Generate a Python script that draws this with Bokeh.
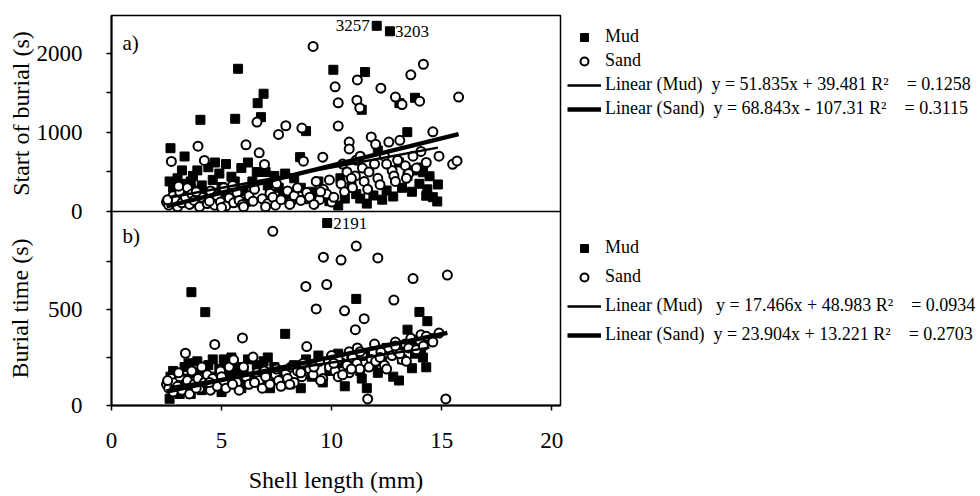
import numpy as np
from bokeh.plotting import figure
from bokeh.layouts import column
from bokeh.models import Range1d, FixedTicker, Legend, LegendItem, Label, ColumnDataSource
from bokeh.core.properties import value
from bokeh.embed import file_html
from bokeh.resources import INLINE

FONT = "Liberation Serif"
NaN = float("nan")

# ---------------- data ----------------
# Mud: shell length (mm), start of burial (s), burial time (s)
mud_len = [2.64, 2.68, 2.80, 2.90, 3.00, 3.10, 3.32, 3.40, 3.50, 3.63,
           3.70, 3.80, 3.90, 4.04, 4.10, 4.26, 4.40, 4.50, 4.60, 4.80,
           4.90, 5.00, 5.20, 5.30, 5.45, 5.62, 5.75, 5.90, 6.00, 6.20,
           6.40, 6.64, 6.79, 6.91, 7.00, 7.20, 7.40, 7.60, 7.89, 8.10,
           8.30, 8.57, 8.84, 9.10, 9.40, 9.60, 10.08, 10.30, 10.60, 10.90,
           11.12, 11.30, 11.37, 11.52, 11.60, 11.90, 12.10, 12.50, 13.06, 13.08,
           13.20, 13.44, 13.45, 13.65, 13.70, 13.79, 13.99, 14.06, 14.15, 14.30,
           14.35, 14.45, 14.60, 14.80, 14.83, 3.20, 3.60, 4.20, 4.70, 5.10,
           5.60, 6.10, 6.60, 7.10, 7.80, 8.60, 9.90, 10.40, 12.30, 12.80]
mud_start = [380, 801, 300, 150, 420, 250, 696, 350, 180, 280,
             450, 120, 520, 1160, 330, 240, 560, 200, 400, 90,
             480, 310, 600, 160, 440, 1173, 1806, 550, 260, 620,
             380, 1371, 1194, 1490, 500, 220, 450, 300, 480, 150,
             420, 688, 1017, 250, 380, 180, 1793, 76, 164, 320,
             220, 164, 1287, 1764, 100, 203, 772, 266, 620, 1371,
             300, 1004, 450, 250, 519, 1439, 350, 557, 497, 200,
             280, 446, 181, 127, 342, 520, 380, 150, 620, 250,
             380, 120, 500, 330, 200, 300, 130, 420, 150, 190]
mud_burial = [35, 150, 180, 90, 120, 60, 200, 140, 220, 590,
              100, 170, 230, 130, 80, 486, 210, 150, 240, 110,
              190, 70, 220, 160, 250, 130, 200, 90, 180, 240,
              150, 200, 120, 230, 170, 90, 200, 140, 373, 110,
              210, 180, 240, 150, 260, 120, 200, 270, 100, 230,
              555, 180, 140, 260, 90, 210, 170, 300, 130, 280,
              240, 320, 395, 194, 340, 270, 487, 300, 250, 199,
              439, 350, NaN, NaN, NaN, 100, 60, 190, 130, 240,
              170, 110, 210, 250, 120, 90, 180, 220, 230, 150]

# Sand: shell length (mm), start of burial (s), burial time (s)
sand_len = [2.50, 2.60, 2.72, 2.80, 2.90, 3.00, 3.10, 3.20, 3.36, 3.45,
            3.55, 3.65, 3.75, 3.93, 4.00, 4.10, 4.22, 4.35, 4.50, 4.60,
            4.69, 4.80, 4.95, 5.10, 5.20, 5.35, 5.55, 5.70, 5.80, 5.95,
            6.11, 6.25, 6.43, 6.61, 6.71, 6.85, 6.95, 7.10, 7.20, 7.33,
            7.45, 7.59, 7.70, 7.92, 8.00, 8.15, 8.30, 8.45, 8.65, 8.72,
            8.83, 8.87, 9.00, 9.16, 9.30, 9.45, 9.60, 9.63, 9.78, 9.90,
            10.00, 10.16, 10.30, 10.30, 10.43, 10.59, 10.70, 10.80, 10.80, 10.95,
            11.08, 11.12, 11.15, 11.17, 11.28, 11.40, 11.48, 11.64, 11.80, 11.95,
            12.10, 12.24, 12.40, 12.60, 12.75, 12.83, 12.90, 13.00, 13.20, 13.35,
            13.50, 13.60, 13.70, 13.85, 14.00, 14.06, 14.17, 14.30, 14.60, 14.88,
            15.19, 15.26, 15.50, 15.70, 15.77, 2.55, 3.05, 3.85, 4.45, 5.00,
            5.50, 6.00, 6.50, 7.00, 7.50, 8.10, 8.60, 9.20, 9.50, 10.10,
            10.50, 10.90, 11.30, 11.70, 12.00, 12.20, 12.50, 12.90, 13.10, 13.40]
sand_start = [120, 80, 633, 200, 150, 60, 250, 110, 180, 300,
              90, 220, 140, 827, 60, 180, 646, 100, 260, 150,
              80, 200, 120, 300, 70, 170, 110, 240, 140, 90,
              844, 200, 130, 1131, 743, 160, 595, 100, 230, 180,
              80, 975, 150, 1085, 260, 120, 200, 300, 1055, 637,
              160, 240, 180, 2089, 380, 150, 688, 280, 220, 400,
              120, 1578, 1375, 1081, 350, 250, 500, 878, 791, 300,
              450, 650, 1409, 1665, 1310, 550, 380, 280, 943, 600,
              420, 1561, 700, 878, 520, 450, 1448, 650, 1354, 580,
              480, 1729, 700, 550, 1396, 760, 1863, 620, 1008, 700,
              NaN, NaN, 597, 640, 1448, 150, 320, 250, 130, 50,
              330, 60, 280, 60, 350, 90, 140, 90, 250, 180,
              600, 420, 700, 500, 850, 340, 600, 380, 900, 420]
sand_burial = [110, 90, 140, 70, 120, 100, 150, 80, 272, 130,
               60, 180, 110, 140, 90, 200, 120, 160, 80, 140,
               318, 100, 180, 130, 90, 200, 238, 120, 80, 352,
               150, 110, 252, 170, 130, 90, 180, 140, 110, 907,
               160, 130, 100, 170, 140, 200, 120, 180, 150, 220,
               620, 307, 190, 160, 503, 230, 140, 772, 630, 200,
               260, 180, 240, 150, 757, 493, 210, 280, 170, 250,
               395, 830, 220, 300, 190, 260, 452, 34, 240, 320,
               768, 280, 210, 300, 260, 549, 330, 280, 240, 320,
               300, 350, 661, 290, 340, 368, 310, 360, 330, 377,
               34, 679, NaN, NaN, NaN, 130, 170, 90, 120, 150,
               110, 200, 120, 150, 190, 110, 170, 200, 130, 220,
               160, 190, 280, 200, 230, 250, 190, 310, 270, 230]

# Off-scale mud values, drawn just under the top of panel a) / b) and labelled
top_out_len = [12.05, 12.65]
top_out_drawn_at = [2350, 2280]
top_out_value = ["3257", "3203"]
bot_out_len = [9.80]
bot_out_drawn_at = [950]
bot_out_value = ["2191"]

# Linear fits: slope, intercept, R^2
fit_start_mud = [51.835, 39.481, 0.1258]
fit_start_sand = [68.843, -107.31, 0.3115]
fit_burial_mud = [17.466, 48.983, 0.0934]
fit_burial_sand = [23.904, 13.221, 0.2703]

x_ticks = [0, 5, 10, 15, 20]
top_ticks = [0, 1000, 2000]
bot_ticks = [0, 500]

NB = "\u00a0"
OVERLAP = 14  # px strip where panel b overlaps panel a, so the top "0" label is not cut


def fit_line(xs, ys, fit):
    xs = np.asarray(xs, float)
    ok = ~np.isnan(np.asarray(ys, float))
    xx = np.array([xs[ok].min(), xs[ok].max()])
    return xx, fit[0] * xx + fit[1]


def eq_text(fit):
    sign = "+" if fit[1] >= 0 else "-"
    return f"y = {fit[0]:.3f}x {sign} {abs(fit[1]):g} R\u00b2{NB}{NB}{NB}{NB}= {fit[2]:.4f}"


def style(p, yticks, minor, title, title_standoff):
    p.xgrid.visible = False
    p.ygrid.visible = False
    p.outline_line_color = "black"
    p.outline_line_width = 1.5
    p.outline_line_alpha = 1
    p.background_fill_color = "white"
    ax = p.yaxis[0]
    ax.ticker = FixedTicker(ticks=yticks, minor_ticks=minor)
    ax.axis_label = title
    ax.axis_label_text_font = FONT
    ax.axis_label_text_font_style = "normal"
    ax.axis_label_text_font_size = "24px"
    ax.axis_label_text_color = "black"
    ax.axis_label_standoff = title_standoff
    ax.major_label_text_font = FONT
    ax.major_label_text_font_size = "23px"
    ax.major_label_text_color = "black"
    ax.major_label_standoff = 24
    ax.axis_line_width = 2
    ax.axis_line_color = "black"
    ax.major_tick_out = 5
    ax.major_tick_in = 0
    ax.minor_tick_out = 5
    ax.minor_tick_in = 0
    ax.major_tick_line_width = 1.5
    ax.minor_tick_line_width = 1.5
    ax.major_tick_line_color = "black"
    ax.minor_tick_line_color = "black"


x_range = Range1d(0, 20.4)

# ---------------- panel a ----------------
p1 = figure(frame_width=449, frame_height=196, x_range=x_range, y_range=Range1d(0, 2480),
            output_backend="svg", toolbar_location=None,
            min_border_left=111, min_border_top=15, min_border_bottom=OVERLAP, min_border_right=0)
style(p1, top_ticks, [500, 1500], "Start of burial (s)", 0)
p1.xaxis.visible = False
p1.border_fill_color = "white"

m1 = p1.scatter(mud_len, mud_start, marker="square", size=9, fill_color="black", line_color="black")
p1.scatter(top_out_len, top_out_drawn_at, marker="square", size=9, fill_color="black", line_color="black")
s1 = p1.scatter(sand_len, sand_start, marker="circle", size=9, fill_color="white", line_color="black", line_width=2)
xx, yy = fit_line(mud_len, mud_start, fit_start_mud)
l1m = p1.line(xx, yy, line_color="black", line_width=2.5)
xx, yy = fit_line(sand_len, sand_start, fit_start_sand)
l1s = p1.line(xx, yy, line_color="black", line_width=4.5)

src_top_out = ColumnDataSource(dict(x=top_out_len, y=top_out_drawn_at, t=top_out_value,
                                    xo=[-7, 5], al=["right", "left"]))
p1.text(x="x", y="y", text="t", x_offset="xo", text_align="al", source=src_top_out,
        text_baseline="middle", text_font=value(FONT), text_font_size="17px", text_color="black")
p1.add_layout(Label(x=0.5, y=2290, text="a)", text_font=FONT, text_font_size="21px",
                    text_color="black", text_baseline="top", text_align="left"))

leg1 = Legend(items=[
    LegendItem(label="Mud", renderers=[m1]),
    LegendItem(label="Sand", renderers=[s1]),
    LegendItem(label=f"Linear (Mud){NB}{NB}" + eq_text(fit_start_mud), renderers=[l1m]),
    LegendItem(label=f"Linear (Sand){NB}{NB}" + eq_text(fit_start_sand), renderers=[l1s]),
], location=(7, 92))
p1.add_layout(leg1, "right")

# ---------------- panel b ----------------
p2 = figure(frame_width=449, frame_height=194, x_range=x_range, y_range=Range1d(0, 1010),
            output_backend="svg", toolbar_location=None,
            min_border_left=111, min_border_top=0, min_border_bottom=0, min_border_right=0)
style(p2, bot_ticks, [250, 750], "Burial time (s)", 12)
p2.border_fill_alpha = 0
p2.margin = (-OVERLAP, 0, 0, 0)
xa = p2.xaxis[0]
xa.ticker = FixedTicker(ticks=x_ticks, minor_ticks=[])
xa.axis_label = "Shell length (mm)"
xa.axis_label_text_font = FONT
xa.axis_label_text_font_style = "normal"
xa.axis_label_text_font_size = "24px"
xa.axis_label_text_color = "black"
xa.axis_label_standoff = 16
xa.major_label_text_font = FONT
xa.major_label_text_font_size = "23px"
xa.major_label_text_color = "black"
xa.major_label_standoff = 22
xa.axis_line_width = 2
xa.axis_line_color = "black"
xa.major_tick_out = 5
xa.major_tick_in = 0
xa.major_tick_line_width = 1.5
xa.major_tick_line_color = "black"

m2 = p2.scatter(mud_len, mud_burial, marker="square", size=9, fill_color="black", line_color="black")
p2.scatter(bot_out_len, bot_out_drawn_at, marker="square", size=9, fill_color="black", line_color="black")
s2 = p2.scatter(sand_len, sand_burial, marker="circle", size=9, fill_color="white", line_color="black", line_width=2)
xx, yy = fit_line(mud_len, mud_burial, fit_burial_mud)
l2m = p2.line(xx, yy, line_color="black", line_width=2.5)
xx, yy = fit_line(sand_len, sand_burial, fit_burial_sand)
l2s = p2.line(xx, yy, line_color="black", line_width=4.5)

p2.text(x=bot_out_len, y=bot_out_drawn_at, text=bot_out_value, x_offset=6, text_align="left",
        text_baseline="middle", text_font=value(FONT), text_font_size="17px", text_color="black")
p2.add_layout(Label(x=0.5, y=945, text="b)", text_font=FONT, text_font_size="21px",
                    text_color="black", text_baseline="top", text_align="left"))

leg2 = Legend(items=[
    LegendItem(label="Mud", renderers=[m2]),
    LegendItem(label="Sand", renderers=[s2]),
    LegendItem(label=f"Linear (Mud){NB}{NB}{NB}" + eq_text(fit_burial_mud), renderers=[l2m]),
    LegendItem(label=f"Linear (Sand){NB}{NB}" + eq_text(fit_burial_sand), renderers=[l2s]),
], location=(7, 60))
p2.add_layout(leg2, "right")

for lg, sp in ((leg1, 3), (leg2, 8)):
    lg.label_text_font = FONT
    lg.label_text_font_size = "18px"
    lg.label_text_color = "black"
    lg.glyph_width = 34
    lg.glyph_height = 20
    lg.label_height = 20
    lg.label_standoff = 4
    lg.spacing = sp
    lg.padding = 0
    lg.margin = 0
    lg.border_line_alpha = 0
    lg.background_fill_alpha = 0

layout = column(p1, p2, spacing=0)
open("out.html", "w").write(file_html(layout, INLINE))
